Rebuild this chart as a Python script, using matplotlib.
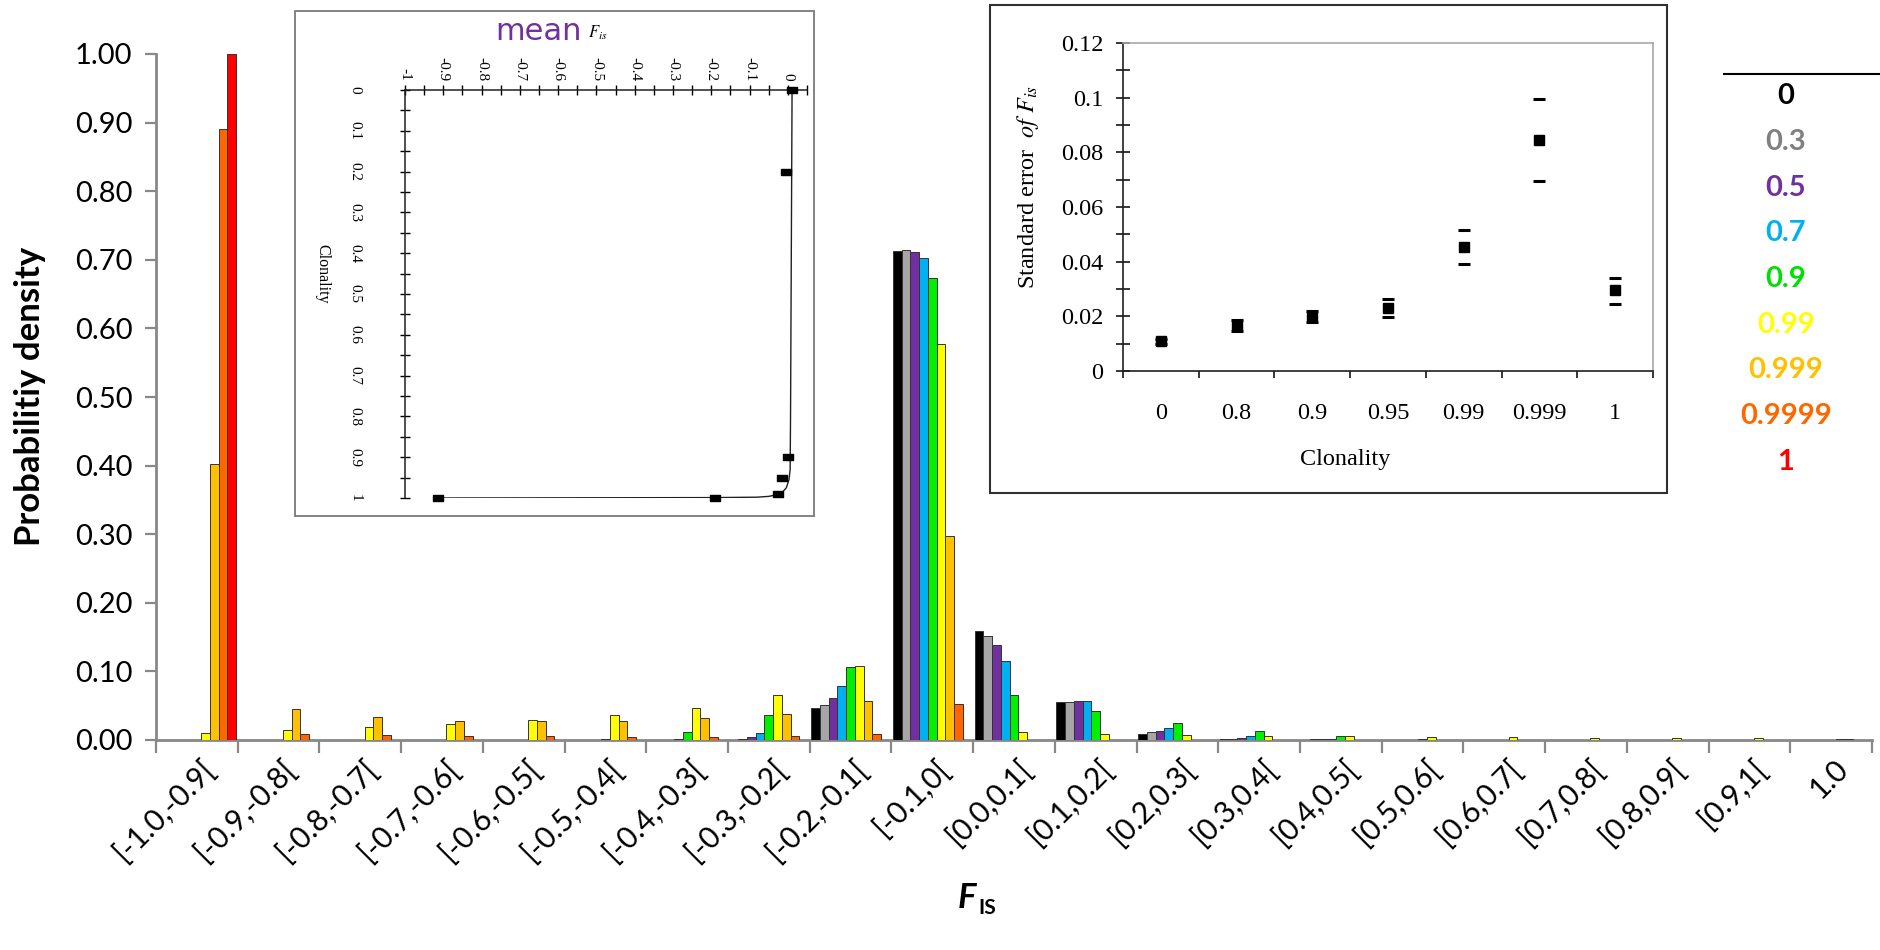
import numpy as np
import matplotlib
matplotlib.use("Agg")
import matplotlib.pyplot as plt
from matplotlib.patches import Rectangle
from matplotlib.lines import Line2D
from matplotlib.path import Path
from matplotlib.transforms import ScaledTranslation
from matplotlib.ticker import MultipleLocator, FixedLocator, NullFormatter

plt.rcParams["font.family"] = ["Lato", "DejaVu Sans"]
plt.rcParams["mathtext.fontset"] = "stix"

W, H = 1881, 950

# ---------------- data ----------------
categories = ["[-1.0,-0.9[", "[-0.9,-0.8[", "[-0.8,-0.7[", "[-0.7,-0.6[", "[-0.6,-0.5[",
              "[-0.5,-0.4[", "[-0.4,-0.3[", "[-0.3,-0.2[", "[-0.2,-0.1[", "[-0.1,0[",
              "[0.0,0.1[", "[0.1,0.2[", "[0.2,0.3[", "[0.3,0.4[", "[0.4,0.5[",
              "[0.5,0.6[", "[0.6,0.7[", "[0.7,0.8[", "[0.8,0.9[", "[0.9,1[", "1.0"]

clonality_levels = ["0", "0.3", "0.5", "0.7", "0.9", "0.99", "0.999", "0.9999", "1"]

dens_c0     = [0, 0, 0, 0, 0, 0, 0, 0, 0.046, 0.713, 0.159, 0.056, 0.009, 0.001, 0, 0, 0, 0, 0, 0, 0]
dens_c03    = [0, 0, 0, 0, 0, 0, 0, 0.001, 0.051, 0.714, 0.152, 0.056, 0.011, 0.001, 0.001, 0, 0, 0, 0, 0, 0]
dens_c05    = [0, 0, 0, 0, 0, 0, 0, 0.004, 0.061, 0.711, 0.138, 0.057, 0.013, 0.003, 0.001, 0, 0, 0, 0, 0, 0]
dens_c07    = [0, 0, 0, 0, 0, 0, 0.001, 0.010, 0.078, 0.703, 0.115, 0.057, 0.018, 0.0055, 0.002, 0, 0, 0, 0, 0, 0]
dens_c09    = [0, 0, 0, 0, 0, 0.002, 0.011, 0.037, 0.107, 0.674, 0.065, 0.043, 0.025, 0.013, 0.006, 0.001, 0, 0, 0, 0, 0]
dens_c099   = [0.010, 0.015, 0.019, 0.023, 0.029, 0.036, 0.047, 0.066, 0.108, 0.577, 0.012, 0.009, 0.008, 0.006, 0.006,
               0.005, 0.004, 0.003, 0.003, 0.003, 0.001]
dens_c0999  = [0.403, 0.045, 0.033, 0.028, 0.028, 0.027, 0.032, 0.038, 0.057, 0.298, 0, 0, 0, 0, 0, 0, 0, 0, 0, 0, 0.001]
dens_c09999 = [0.890, 0.009, 0.007, 0.006, 0.006, 0.005, 0.005, 0.006, 0.009, 0.052, 0, 0, 0, 0, 0, 0, 0, 0, 0, 0, 0]
dens_c1     = [1.000, 0, 0, 0, 0, 0, 0, 0, 0, 0, 0, 0, 0, 0, 0, 0, 0, 0, 0, 0, 0]

bar_colors = ["#000000", "#A6A6A6", "#7030A0", "#00B0F0", "#00F000", "#FFFF00", "#FFC000", "#FF6600", "#FF0000"]
text_colors = ["#000000", "#808080", "#7030A0", "#00B0F0", "#00E000", "#FFFF00", "#FFC000", "#FF6600", "#FF0000"]

# mean Fis versus clonality (left inset)
mean_clonality = [0.0, 0.2, 0.9, 0.95, 0.99, 0.999, 1.0]
mean_fis = [0.012, -0.004, 0.0, -0.015, -0.025, -0.19, -0.915]
curve_clonality = [0.0, 0.8, 0.93, 0.955, 0.975, 0.99, 0.996, 0.998, 0.999, 1.0]
curve_fis = [0.011, 0.007, 0.006, 0.003, -0.004, -0.018, -0.05, -0.08, -0.19, -0.915]

# standard error of Fis versus clonality (right inset)
se_labels = ["0", "0.8", "0.9", "0.95", "0.99", "0.999", "1"]
se_value = [0.0109, 0.0170, 0.0200, 0.0231, 0.0455, 0.0844, 0.0296]
se_upper = [0.0118, 0.0188, 0.0220, 0.0264, 0.0515, 0.0995, 0.0342]
se_lower = [0.0100, 0.0148, 0.0180, 0.0198, 0.0391, 0.0696, 0.0244]


def px_rect(l, t, r, b):
    return [l / W, 1 - b / H, (r - l) / W, (b - t) / H]


fig = plt.figure(figsize=(W / 100, H / 100), dpi=100)
fig.patch.set_facecolor("white")

# ---------------- main histogram ----------------
ax = fig.add_axes(px_rect(156, 54, 1872, 740))
ax.set_zorder(0)
series = [dens_c0, dens_c03, dens_c05, dens_c07, dens_c09, dens_c099, dens_c0999, dens_c09999, dens_c1]
n = len(series)
group = 0.96
bw = group / n
base = np.arange(len(categories)) + 0.5 - group / 2
for i, vals in enumerate(series):
    vals = np.asarray(vals, dtype=float)
    lws = [0.7 if v > 0 else 0 for v in vals]
    ax.bar(base + (i + 0.5) * bw, vals, width=bw, color=bar_colors[i],
           edgecolor="#333333", linewidth=lws, zorder=3)

axis_gray = "#888888"
ax.set_xlim(0, len(categories))
ax.set_ylim(0, 1.0)
for s in ("top", "right"):
    ax.spines[s].set_visible(False)
for s in ("left", "bottom"):
    ax.spines[s].set_color(axis_gray)
    ax.spines[s].set_linewidth(2)
    ax.spines[s].set_zorder(2)

ax.set_yticks(np.arange(0, 1.001, 0.1))
ax.set_yticklabels(["%.2f" % v for v in np.arange(0, 1.001, 0.1)], fontsize=21)
ax.tick_params(axis="y", length=8, width=1.6, color=axis_gray, pad=9)

ax.xaxis.set_major_locator(FixedLocator(np.arange(0, len(categories) + 1)))
ax.xaxis.set_major_formatter(NullFormatter())
ax.tick_params(axis="x", which="major", length=9.5, width=1.6, color=axis_gray)
ax.xaxis.set_minor_locator(FixedLocator(np.arange(len(categories)) + 0.5))
ax.set_xticklabels(categories, minor=True, fontsize=21.5, rotation=45,
                   ha="right", va="top", rotation_mode="anchor")
ax.tick_params(axis="x", which="minor", length=0, pad=10)
shift = ScaledTranslation(3 / 100, 0, fig.dpi_scale_trans)
for lbl in ax.get_xticklabels(minor=True):
    lbl.set_transform(lbl.get_transform() + shift)

fig.text(30 / W, 1 - 396 / H, "Probabilitiy density", rotation=90, fontsize=25,
         fontweight="bold", ha="center", va="center")
fig.text(976 / W, 1 - 898 / H, "F", fontsize=25, fontweight="bold", fontstyle="italic",
         ha="right", va="center")
fig.text(978 / W, 1 - 908 / H, "IS", fontsize=15, fontweight="bold", ha="left", va="center")

# ---------------- legend of clonality levels ----------------
fig.add_artist(Line2D([1724 / W, 1.0], [1 - 74 / H, 1 - 74 / H], color="black", lw=1.5))
for i, (lab, col) in enumerate(zip(clonality_levels, text_colors)):
    fig.text(1786 / W, 1 - (96 + i * 45.75) / H, lab, color=col, fontsize=21,
             fontweight="bold", ha="center", va="center")

# ---------------- inset frames ----------------
fig.add_artist(Rectangle((295 / W, 1 - 516 / H), (814 - 295) / W, (516 - 11) / H,
                         transform=fig.transFigure, facecolor="white",
                         edgecolor="#7a7a7a", lw=1.3, zorder=1))
fig.add_artist(Rectangle((990 / W, 1 - 493 / H), (1667 - 990) / W, (493 - 5) / H,
                         transform=fig.transFigure, facecolor="white",
                         edgecolor="#303030", lw=1.5, zorder=1))

serif = ["Liberation Serif", "DejaVu Serif"]

# ---------------- left inset: mean Fis ----------------
axl = fig.add_axes(px_rect(405, 90, 807, 498))
axl.set_zorder(2)
axl.patch.set_alpha(0)
axl.set_xlim(-1.0, 0.05)
axl.set_ylim(1.0, 0.0)
axl.plot(curve_fis, curve_clonality, color="#202020", lw=1.0, zorder=3)
rect_marker = Path([(-1, -0.6), (1, -0.6), (1, 0.6), (-1, 0.6), (-1, -0.6)],
                   [Path.MOVETO, Path.LINETO, Path.LINETO, Path.LINETO, Path.CLOSEPOLY])
axl.plot(mean_fis, mean_clonality, linestyle="none", marker=rect_marker,
         markersize=7.5, color="black", zorder=4, clip_on=False)
for s in ("right", "bottom"):
    axl.spines[s].set_visible(False)
for s in ("top", "left"):
    axl.spines[s].set_color("#202020")
    axl.spines[s].set_linewidth(1.1)
axl.xaxis.tick_top()
axl.set_xticks(np.round(np.arange(-1.0, 0.001, 0.1), 1))
axl.set_xticklabels(["-1"] + ["%.1f" % v for v in np.arange(-0.9, -0.05, 0.1)] + ["0"],
                    family=serif, fontsize=11, rotation=-90)
axl.xaxis.set_minor_locator(MultipleLocator(0.05))
axl.set_yticks(np.round(np.arange(0, 1.001, 0.1), 1))
axl.set_yticklabels(["0"] + ["%.1f" % v for v in np.arange(0.1, 0.95, 0.1)] + ["1"],
                    family=serif, fontsize=11, rotation=-90, va="center")
axl.yaxis.set_minor_locator(MultipleLocator(0.05))
axl.tick_params(axis="x", which="both", direction="inout", length=7, width=1, pad=3)
axl.tick_params(axis="y", which="both", direction="inout", length=7, width=1, pad=28)
fig.text(322 / W, 1 - 274 / H, "Clonality", family=serif, fontsize=11.5, rotation=-90,
         ha="center", va="center")
fig.text(582 / W, 1 - 31 / H, "mean", color="#7030A0", fontsize=22,
         family=["DejaVu Sans"], ha="right", va="center")
fig.text(588 / W, 1 - 33 / H, r"$F_{is}$", fontsize=12, ha="left", va="center")

# ---------------- right inset: standard error of Fis ----------------
axr = fig.add_axes(px_rect(1123, 43, 1653, 371))
axr.set_zorder(2)
axr.patch.set_alpha(0)
xs = np.arange(len(se_labels)) + 0.5
se_value_a = np.asarray(se_value)
yerr = [se_value_a - np.asarray(se_lower), np.asarray(se_upper) - se_value_a]
axr.errorbar(xs, se_value, yerr=yerr, fmt="s", ms=7.5, color="black",
             elinewidth=0, capsize=4.5, capthick=2.2, zorder=4)
axr.set_xlim(0, len(se_labels))
axr.set_ylim(0, 0.12)
for s in ("top", "right"):
    axr.spines[s].set_color("#a8a8a8")
    axr.spines[s].set_linewidth(1.2)
for s in ("left", "bottom"):
    axr.spines[s].set_color("#202020")
    axr.spines[s].set_linewidth(1.2)
axr.set_yticks([0, 0.02, 0.04, 0.06, 0.08, 0.1, 0.12])
axr.set_yticklabels(["0", "0.02", "0.04", "0.06", "0.08", "0.1", "0.12"],
                    family=serif, fontsize=17.5)
axr.yaxis.set_minor_locator(MultipleLocator(0.01))
axr.tick_params(axis="y", which="both", direction="inout", length=10, width=1.1, pad=9)
axr.xaxis.set_major_locator(FixedLocator(np.arange(0, len(se_labels) + 1)))
axr.xaxis.set_major_formatter(NullFormatter())
axr.tick_params(axis="x", which="major", direction="out", length=5, width=1.1)
axr.xaxis.set_minor_locator(FixedLocator(xs))
axr.set_xticklabels(se_labels, minor=True, family=serif, fontsize=17.5)
axr.tick_params(axis="x", which="minor", length=0, pad=23)
fig.text(1345 / W, 1 - 460 / H, "Clonality", family=serif, fontsize=17.5,
         ha="center", va="center")
fig.text(1028 / W, 1 - 187 / H, r"Standard error  $of\ F_{is}$", family=serif,
         fontsize=17.5, rotation=90, ha="center", va="center")

fig.savefig("out.png", dpi=100, facecolor="white")
